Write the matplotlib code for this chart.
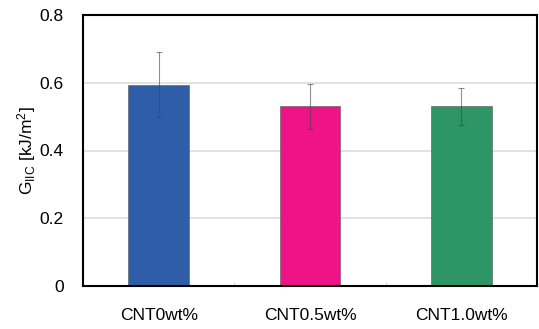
import numpy as np
import matplotlib
matplotlib.use('Agg')
import matplotlib.pyplot as plt

plt.rcParams['font.family'] = ['Liberation Sans', 'DejaVu Sans']
plt.rcParams['mathtext.fontset'] = 'custom'
plt.rcParams['mathtext.rm'] = 'Liberation Sans'
plt.rcParams['mathtext.it'] = 'Liberation Sans'

# data
labels = ['CNT0wt%', 'CNT0.5wt%', 'CNT1.0wt%']
giic = [0.594, 0.530, 0.530]
err = [0.096, 0.066, 0.054]
colors = ['#2F5DA8', '#EE1386', '#2E9664']

fig = plt.figure(figsize=(5.39, 3.29), dpi=100)
ax = fig.add_axes([83/539, 1 - 286/329, 454/539, 271/329])

x = np.arange(len(labels))
ax.bar(x, giic, width=0.4, color=colors, edgecolor='#555555', linewidth=0.4, zorder=2)
ax.errorbar(x, giic, yerr=err, fmt='none', ecolor='#444444', elinewidth=0.8,
            capsize=2, capthick=0.8, alpha=0.6, zorder=3)

ax.set_xlim(-0.5, 2.5)
ax.set_ylim(0, 0.8)
ax.set_yticks([0, 0.2, 0.4, 0.6, 0.8])
ax.set_yticklabels(['0', '0.2', '0.4', '0.6', '0.8'])
ax.set_xticks(x)
ax.set_xticklabels(labels)
ax.set_xticks([0.5, 1.5], minor=True)
ax.tick_params(axis='both', which='major', length=0, labelsize=12.5)
ax.tick_params(axis='y', pad=14)
ax.tick_params(axis='x', pad=16)
ax.tick_params(axis='x', which='minor', length=3, direction='in', color='#cccccc')
ax.yaxis.grid(True, color='#dddddd', linewidth=1.2, zorder=0)
ax.set_axisbelow(True)

for s in ax.spines.values():
    s.set_linewidth(1.5)
    s.set_color('black')

ax.set_ylabel(r'G$_{\rm IIC}$ [kJ/m$^2$]', fontsize=12.5, labelpad=1)

fig.savefig('out.png', dpi=100)
